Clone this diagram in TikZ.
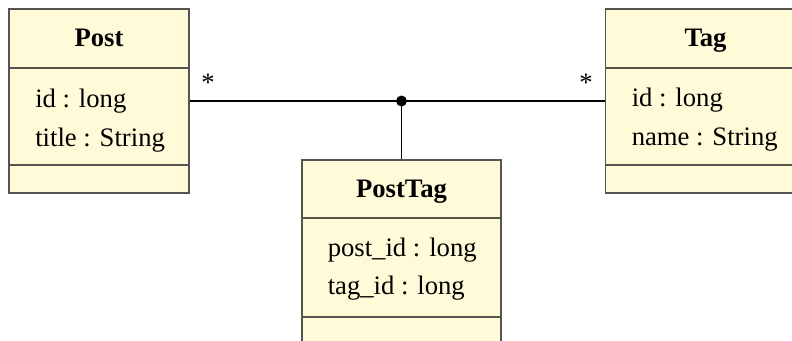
\documentclass[tikz,border=0pt]{standalone}
\usepackage{fontspec}
\setmainfont{Liberation Serif}
\definecolor{classfill}{RGB}{255,250,215}
\definecolor{classline}{RGB}{85,85,80}
\begin{document}
\begin{tikzpicture}[x=0.75pt,y=-0.75pt, font=\fontsize{20}{24}\selectfont,
  classbox/.style={draw=classline, line width=1.1pt, fill=classfill, rectangle, inner sep=0pt},
  sepline/.style={draw=classline, line width=1.1pt},
  attr/.style={anchor=base west, inner sep=0pt},
  ctitle/.style={anchor=base, inner sep=0pt, font=\fontsize{20}{24}\selectfont\bfseries},
  conn/.style={draw=black, line width=0.9pt},
  mult/.style={anchor=base, inner sep=0pt}]
\useasboundingbox (0,0) rectangle (792,340);
\clip (0,0) rectangle (792,340);
% boxes
\node[classbox, minimum width=135pt, minimum height=138pt] (post) at (99,101) {};
\node[classbox, minimum width=150pt, minimum height=138pt] (tag) at (705.5,101) {};
\node[classbox, minimum width=149.25pt, minimum height=138.75pt] (posttag) at (401.5,252.5) {};
% separators
\draw[sepline] (post.west |- 0,68) -- (post.east |- 0,68);
\draw[sepline] (post.west |- 0,165) -- (post.east |- 0,165);
\draw[sepline] (tag.west |- 0,68) -- (tag.east |- 0,68);
\draw[sepline] (tag.west |- 0,165) -- (tag.east |- 0,165);
\draw[sepline] (posttag.west |- 0,218) -- (posttag.east |- 0,218);
\draw[sepline] (posttag.west |- 0,317) -- (posttag.east |- 0,317);
% texts
\node[ctitle] (posttitle) at (99,46) {Post};
\node[attr] (postid) at (35,107) {id : long};
\node[attr] (posttitleattr) at (35,146) {title : String};
\node[ctitle] (tagtitle) at (705.5,46) {Tag};
\node[attr] (tagid) at (631.5,106) {id : long};
\node[attr] (tagname) at (631.5,145) {name : String};
\node[ctitle] (pttitle) at (401.5,197) {PostTag};
\node[attr] (ptpost) at (327.5,256) {post\_id : long};
\node[attr] (pttag) at (327.5,294) {tag\_id : long};
% connectors
\coordinate (j) at (posttag.north |- post.east);
\draw[conn] (post.east) -- (tag.west);
\draw[conn] (j) -- (posttag.north);
\fill (j) circle (4.1pt);
\node[mult] (m1) at (208,91) {*};
\node[mult] (m2) at (586,91) {*};
\end{tikzpicture}
\end{document}
